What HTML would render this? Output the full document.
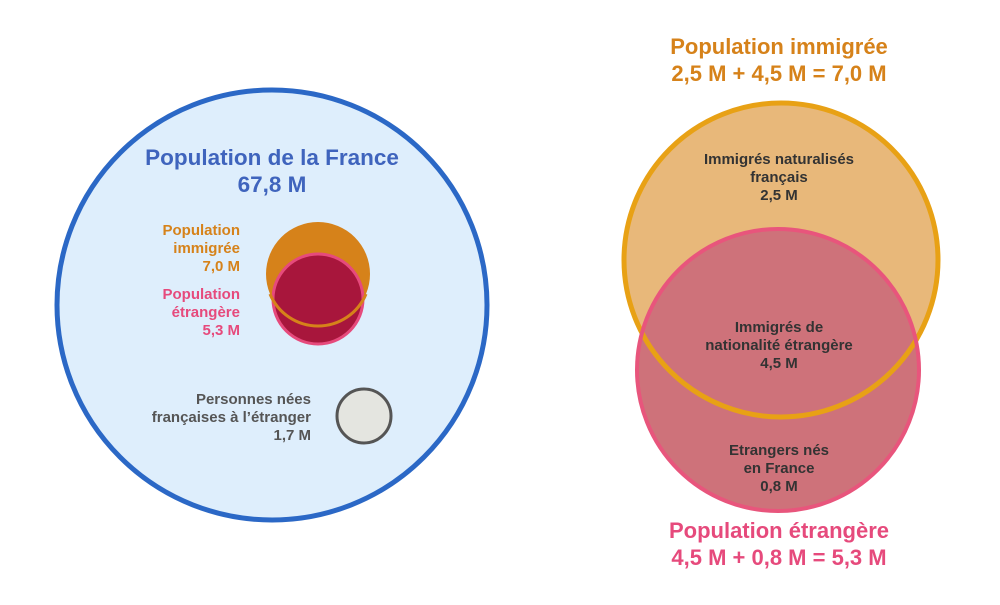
<!DOCTYPE html>
<html><head><meta charset="utf-8"><style>
html,body{margin:0;padding:0;background:#fff;}
svg text{font-family:"Liberation Sans",sans-serif;font-weight:bold;}
</style></head><body>
<svg width="1000" height="600" viewBox="0 0 1000 600" xmlns="http://www.w3.org/2000/svg">
<circle cx="272" cy="305" r="215" fill="#deeefc" stroke="#2b68c6" stroke-width="5"/>
<text x="272" y="165" font-size="22.5" fill="#3f64bd" text-anchor="middle">Population de la France</text>
<text x="272" y="192" font-size="22.5" fill="#3f64bd" text-anchor="middle">67,8 M</text>
<circle cx="318" cy="274" r="52" fill="#d6821a"/>
<circle cx="318" cy="299" r="45" fill="#a8163c" stroke="#e64a7c" stroke-width="3"/>
<path d="M270,294 A52,52 0 0 0 366,294" fill="none" stroke="#d6821a" stroke-width="3"/>
<g font-size="15" text-anchor="end">
<text x="240" y="235" fill="#d6821a">Population</text>
<text x="240" y="253" fill="#d6821a">immigrée</text>
<text x="240" y="271" fill="#d6821a">7,0 M</text>
<text x="240" y="299" fill="#e64a7c">Population</text>
<text x="240" y="317" fill="#e64a7c">étrangère</text>
<text x="240" y="335" fill="#e64a7c">5,3 M</text>
<text x="311" y="404" fill="#555">Personnes nées</text>
<text x="311" y="422" fill="#555">françaises à l’étranger</text>
<text x="311" y="440" fill="#555">1,7 M</text>
</g>
<circle cx="364" cy="416" r="27" fill="#e4e5e0" stroke="#555" stroke-width="3"/>

<circle cx="781" cy="260" r="157" fill="#e8b87a"/>
<circle cx="778" cy="370" r="141" fill="#ce727a"/>
<circle cx="781" cy="260" r="157" fill="none" stroke="#e8a115" stroke-width="5"/>
<circle cx="778" cy="370" r="141" fill="none" stroke="#e8557c" stroke-width="4"/>
<text x="779" y="54" font-size="22" fill="#d6821a" text-anchor="middle">Population immigrée</text>
<text x="779" y="81" font-size="22" fill="#d6821a" text-anchor="middle">2,5 M + 4,5 M = 7,0 M</text>
<text x="779" y="538" font-size="22" fill="#e64a7c" text-anchor="middle">Population étrangère</text>
<text x="779" y="565" font-size="22" fill="#e64a7c" text-anchor="middle">4,5 M + 0,8 M = 5,3 M</text>
<g font-size="15" fill="#333" text-anchor="middle">
<text x="779" y="164">Immigrés naturalisés</text>
<text x="779" y="182">français</text>
<text x="779" y="200">2,5 M</text>
<text x="779" y="332">Immigrés de</text>
<text x="779" y="350">nationalité étrangère</text>
<text x="779" y="368">4,5 M</text>
<text x="779" y="455">Etrangers nés</text>
<text x="779" y="473">en France</text>
<text x="779" y="491">0,8 M</text>
</g>
</svg>
</body></html>
